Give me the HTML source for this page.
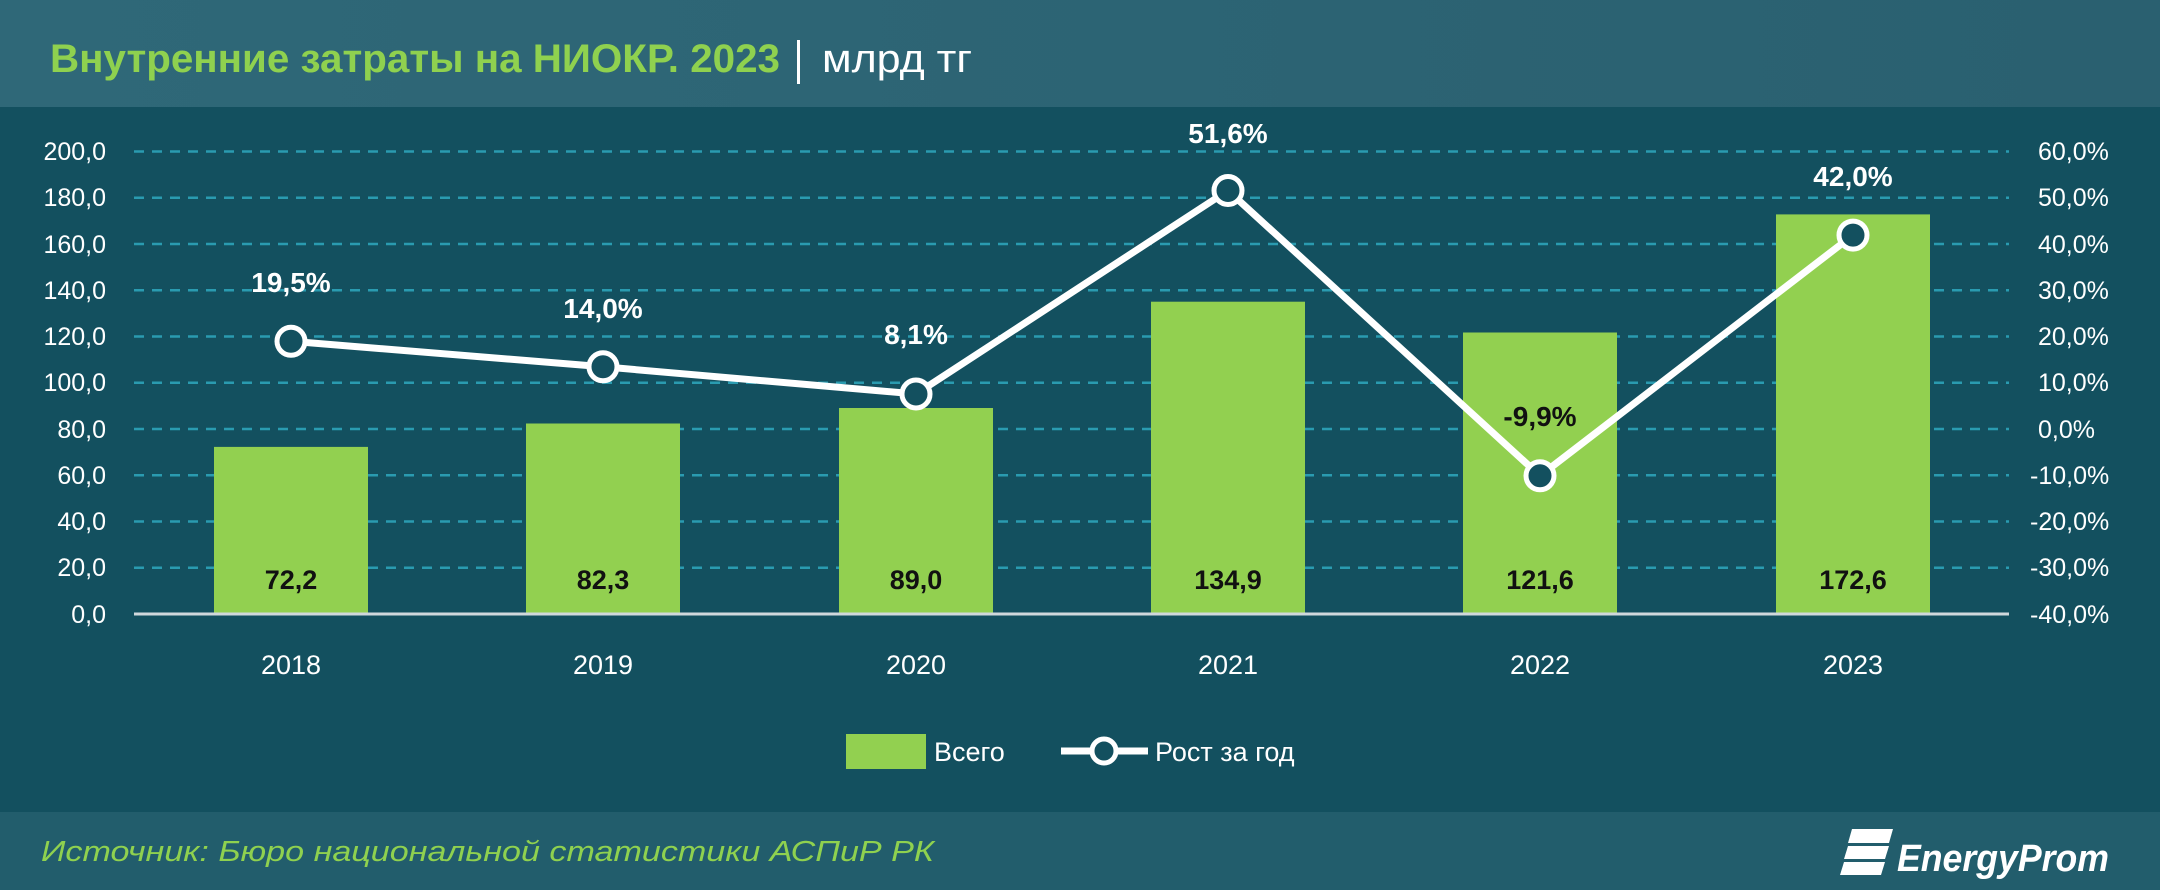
<!DOCTYPE html>
<html><head><meta charset="utf-8"><style>
html,body{margin:0;padding:0;background:#13505f;}
svg{display:block;}
text{font-family:"Liberation Sans","DejaVu Sans",sans-serif;}
</style></head><body>
<svg width="2160" height="890" viewBox="0 0 2160 890" xmlns="http://www.w3.org/2000/svg">
<defs>
<linearGradient id="hg" x1="0" x2="1" y1="0" y2="0"><stop offset="0" stop-color="#2f6878"/><stop offset="1" stop-color="#2a6070"/></linearGradient>
</defs>
<rect x="0" y="0" width="2160" height="890" fill="#13505f"/>
<rect x="0" y="0" width="2160" height="107" fill="url(#hg)"/>
<rect x="0" y="812" width="2160" height="78" fill="#225d6c"/>
<text x="50" y="72" font-size="40" font-weight="bold" fill="#8fd14f" textLength="730" lengthAdjust="spacingAndGlyphs">Внутренние затраты на НИОКР. 2023</text>
<rect x="797" y="40" width="3" height="44" fill="#ffffff"/>
<text x="822" y="72" font-size="40" fill="#ffffff" textLength="150" lengthAdjust="spacingAndGlyphs">млрд тг</text>
<g stroke="#2a9bb0" stroke-width="2.5" stroke-dasharray="10,8">
<line x1="134" x2="2009" y1="151.5" y2="151.5"/>
<line x1="134" x2="2009" y1="197.8" y2="197.8"/>
<line x1="134" x2="2009" y1="244" y2="244"/>
<line x1="134" x2="2009" y1="290.3" y2="290.3"/>
<line x1="134" x2="2009" y1="336.5" y2="336.5"/>
<line x1="134" x2="2009" y1="382.8" y2="382.8"/>
<line x1="134" x2="2009" y1="429" y2="429"/>
<line x1="134" x2="2009" y1="475.3" y2="475.3"/>
<line x1="134" x2="2009" y1="521.5" y2="521.5"/>
<line x1="134" x2="2009" y1="567.8" y2="567.8"/>
</g>
<g fill="#92d050">
<rect x="214" y="446.9" width="154" height="167.1"/>
<rect x="526" y="423.5" width="154" height="190.5"/>
<rect x="839" y="408" width="154" height="206"/>
<rect x="1151" y="301.7" width="154" height="312.3"/>
<rect x="1463" y="332.5" width="154" height="281.5"/>
<rect x="1776" y="214.4" width="154" height="399.6"/>
</g>
<line x1="134" x2="2009" y1="614" y2="614" stroke="#d0d8dc" stroke-width="3"/>
<g font-size="25" fill="#ffffff" text-anchor="end">
<text x="106" y="160">200,0</text><text x="106" y="206">180,0</text><text x="106" y="253">160,0</text><text x="106" y="299">140,0</text><text x="106" y="345">120,0</text><text x="106" y="391">100,0</text><text x="106" y="438">80,0</text><text x="106" y="484">60,0</text><text x="106" y="530">40,0</text><text x="106" y="576">20,0</text><text x="106" y="623">0,0</text>
</g>
<g font-size="25" fill="#ffffff" text-anchor="start">
<text x="2038" y="160">60,0%</text><text x="2038" y="206">50,0%</text><text x="2038" y="253">40,0%</text><text x="2038" y="299">30,0%</text><text x="2038" y="345">20,0%</text><text x="2038" y="391">10,0%</text><text x="2038" y="438">0,0%</text><text x="2030" y="484">-10,0%</text><text x="2030" y="530">-20,0%</text><text x="2030" y="576">-30,0%</text><text x="2030" y="623">-40,0%</text>
</g>
<g font-size="27" fill="#ffffff" text-anchor="middle">
<text x="291" y="674">2018</text><text x="603" y="674">2019</text><text x="916" y="674">2020</text><text x="1228" y="674">2021</text><text x="1540" y="674">2022</text><text x="1853" y="674">2023</text>
</g>
<g font-size="27" font-weight="bold" fill="#111" text-anchor="middle">
<text x="291" y="589">72,2</text><text x="603" y="589">82,3</text><text x="916" y="589">89,0</text><text x="1228" y="589">134,9</text><text x="1540" y="589">121,6</text><text x="1853" y="589">172,6</text>
</g>
<polyline fill="none" stroke="#ffffff" stroke-width="7" stroke-linejoin="round" points="291,341.3 603,366.8 916,394.0 1228,190.5 1540,475.8 1853,235.1"/>
<g fill="#13505f" stroke="#ffffff" stroke-width="5">
<circle cx="291" cy="341.3" r="14"/><circle cx="603" cy="366.8" r="14"/><circle cx="916" cy="394.0" r="14"/><circle cx="1228" cy="190.5" r="14"/><circle cx="1540" cy="475.8" r="14"/><circle cx="1853" cy="235.1" r="14"/>
</g>
<g font-size="28" font-weight="bold" fill="#ffffff" text-anchor="middle">
<text x="291" y="292">19,5%</text><text x="603" y="318">14,0%</text><text x="916" y="344">8,1%</text><text x="1228" y="143">51,6%</text><text x="1853" y="186">42,0%</text>
</g>
<text x="1540" y="426" font-size="28" font-weight="bold" fill="#111" text-anchor="middle">-9,9%</text>
<rect x="846" y="734" width="80" height="35" fill="#92d050"/>
<text x="934" y="761" font-size="27" fill="#ffffff">Всего</text>
<line x1="1061" x2="1148" y1="751" y2="751" stroke="#ffffff" stroke-width="7"/>
<circle cx="1104" cy="751" r="12" fill="#13505f" stroke="#ffffff" stroke-width="5"/>
<text x="1155" y="761" font-size="27" fill="#ffffff">Рост за год</text>
<text x="41" y="861" font-size="29" font-style="italic" fill="#8fd14f" textLength="893" lengthAdjust="spacingAndGlyphs">Источник: Бюро национальной статистики АСПиР РК</text>
<g fill="#ffffff">
<path d="M1852,829 L1893,829 L1889,843 L1848,843 Z"/>
<path d="M1848,846 L1889,846 L1885,859 L1844,859 Z"/>
<path d="M1844,862 L1885,862 L1881,875 L1840,875 Z"/>
</g>
<text x="1897" y="871" font-size="38" font-weight="bold" font-style="italic" fill="#ffffff" textLength="212" lengthAdjust="spacingAndGlyphs">EnergyProm</text>
</svg>
</body></html>
